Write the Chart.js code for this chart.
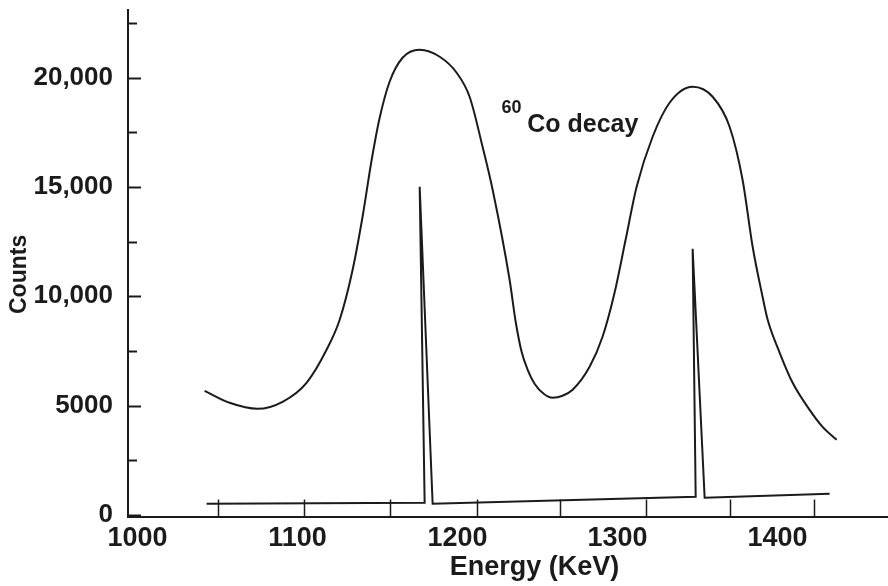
<!DOCTYPE html>
<html>
<head>
<meta charset="utf-8">
<script src="https://cdn.jsdelivr.net/npm/chart.js@4.4.1/dist/chart.umd.min.js"></script>
<style>
  html, body { margin: 0; padding: 0; background: #ffffff; }
  #wrap { width: 888px; height: 586px; position: relative; }
</style>
</head>
<body>
<div id="wrap"><canvas id="c" width="888" height="586"></canvas></div>
<script>
// Broad (scintillator-like) spectrum
const curveEnergy = [1041.9, 1057.5, 1075.0, 1090.6, 1105.6, 1118.1, 1126.3, 1134.4, 1140.6, 1146.3,
  1151.3, 1157.5, 1165.6, 1176.3, 1188.8, 1199.4, 1207.5, 1215.6, 1221.9, 1232.5,
  1236.3, 1240.0, 1243.8, 1248.1, 1253.8, 1259.4, 1265.6, 1271.9, 1282.5, 1290.6,
  1298.1, 1305.0, 1311.9, 1321.9, 1332.5, 1346.9, 1359.4, 1370.0, 1378.1, 1384.4,
  1390.6, 1393.8, 1401.3, 1409.4, 1420.0, 1428.1, 1436.9];
const curveCounts = [5675, 5126, 4851, 5172, 6041, 7551, 8924, 11213, 13638, 16247,
  18169, 19817, 20915, 21281, 20961, 20229, 19130, 16842, 14874, 10755,
  8833, 7460, 6636, 5995, 5538, 5355, 5446, 5721, 6773, 8146,
  10160, 12586, 15011, 17300, 18856, 19588, 19130, 17757, 15332, 12265,
  9977, 8924, 7414, 6041, 4805, 4027, 3432];

// Sharp (germanium-like) spectrum
const spikeEnergy = [1043.1, 1179.4, 1176.3, 1184.4, 1348.8, 1346.9, 1354.4, 1432.5];
const spikeCounts = [503, 549, 15011, 503, 824, 12174, 778, 961];

// Axis ticks
const xTickValues = [1000, 1100, 1200, 1300, 1400];
const xTickLabels = ['1000', '1100', '1200', '1300', '1400'];
const yTickValues = [0, 5000, 10000, 15000, 20000];
const yTickLabels = ['0', '5000', '10,000', '15,000', '20,000'];
const yMinorTicks = [2500, 7500, 12500, 17500, 22500];
const baselineTicks = [1050, 1104, 1158, 1212, 1264, 1318, 1370, 1423];

// Annotation text
const noteSup = '60';
const noteMain = 'Co decay';
const noteEnergy = 1243.5;
const noteCounts = 17530;
const supEnergy = 1227.5;
const supCounts = 18400;

const xTitle = 'Energy (KeV)';
const xTitleEnergy = 1248;
const yTitle = 'Counts';
const yTitleCounts = 11000;

const INK = '#1b1b1b';
const FONT = '"Liberation Sans", Arial, Helvetica, sans-serif';

const curveData = curveEnergy.map((e, i) => ({ x: e, y: curveCounts[i] }));
const spikeData = spikeEnergy.map((e, i) => ({ x: e, y: spikeCounts[i] }));

const decorPlugin = {
  id: 'decor',
  afterDraw(chart) {
    const ctx = chart.ctx;
    const xs = chart.scales.x, ys = chart.scales.y;
    const area = chart.chartArea;
    ctx.save();
    ctx.strokeStyle = INK;
    ctx.lineWidth = 2;
    // y ticks pointing inward
    yTickValues.forEach(v => {
      const py = Math.round(ys.getPixelForValue(v)) + 0.5;
      ctx.beginPath(); ctx.moveTo(area.left, py); ctx.lineTo(area.left + 13, py); ctx.stroke();
    });
    yMinorTicks.forEach(v => {
      const py = Math.round(ys.getPixelForValue(v)) + 0.5;
      ctx.beginPath(); ctx.moveTo(area.left, py); ctx.lineTo(area.left + 9, py); ctx.stroke();
    });
    // baseline ticks between axis and spectrum baseline
    ctx.lineWidth = 1.5;
    baselineTicks.forEach(v => {
      const px = Math.round(xs.getPixelForValue(v)) + 0.5;
      ctx.beginPath(); ctx.moveTo(px, area.bottom); ctx.lineTo(px, ys.getPixelForValue(700)); ctx.stroke();
    });
    // annotation
    ctx.fillStyle = INK;
    ctx.textAlign = 'left';
    ctx.textBaseline = 'alphabetic';
    ctx.font = 'bold 25px ' + FONT;
    ctx.fillText(noteMain, xs.getPixelForValue(noteEnergy), ys.getPixelForValue(noteCounts));
    ctx.font = 'bold 18px ' + FONT;
    ctx.fillText(noteSup, xs.getPixelForValue(supEnergy), ys.getPixelForValue(supCounts));
    // x title
    ctx.textAlign = 'center';
    ctx.font = 'bold 27px ' + FONT;
    ctx.fillText(xTitle, xs.getPixelForValue(xTitleEnergy), 575);
    // y title
    ctx.save();
    ctx.translate(20, ys.getPixelForValue(yTitleCounts));
    ctx.rotate(-Math.PI / 2);
    ctx.textAlign = 'center';
    ctx.textBaseline = 'middle';
    ctx.font = 'bold 23px ' + FONT;
    ctx.fillText(yTitle, 0, 0);
    ctx.restore();
    ctx.restore();
  }
};

new Chart(document.getElementById('c'), {
  type: 'line',
  data: {
    datasets: [
      { data: curveData, borderColor: INK, borderWidth: 2, pointRadius: 0, fill: false,
        cubicInterpolationMode: 'monotone' },
      { data: spikeData, borderColor: INK, borderWidth: 2, pointRadius: 0, fill: false,
        tension: 0, borderJoinStyle: 'miter' }
    ]
  },
  options: {
    responsive: false,
    animation: false,
    events: [],
    layout: { padding: { top: 10, right: 0, left: 0, bottom: 0 } },
    plugins: { legend: { display: false }, tooltip: { enabled: false }, title: { display: false } },
    scales: {
      x: {
        type: 'linear', min: 994, max: 1469,
        grid: { display: false, drawTicks: false },
        border: { display: true, color: INK, width: 2 },
        afterBuildTicks: s => { s.ticks = xTickValues.map(v => ({ value: v })); },
        afterFit: s => { s.height = 69; s.paddingLeft = 0; s.paddingRight = 0; },
        ticks: {
          color: INK, padding: 5, maxRotation: 0, autoSkip: false,
          font: { family: FONT, size: 27, weight: 'bold' },
          callback: (v) => { const i = xTickValues.indexOf(v); return i >= 0 ? xTickLabels[i] : ''; }
        }
      },
      y: {
        type: 'linear', min: -100, max: 23100,
        grid: { display: false, drawTicks: false },
        border: { display: true, color: INK, width: 2 },
        afterBuildTicks: s => { s.ticks = yTickValues.map(v => ({ value: v })); },
        afterFit: s => { s.width = 128; s.paddingTop = 0; s.paddingBottom = 0; },
        ticks: {
          color: INK, padding: 15, autoSkip: false,
          font: { family: FONT, size: 26, weight: 'bold' },
          callback: (v) => { const i = yTickValues.indexOf(v); return i >= 0 ? yTickLabels[i] : ''; }
        }
      }
    }
  },
  plugins: [decorPlugin]
});
</script>
</body>
</html>
